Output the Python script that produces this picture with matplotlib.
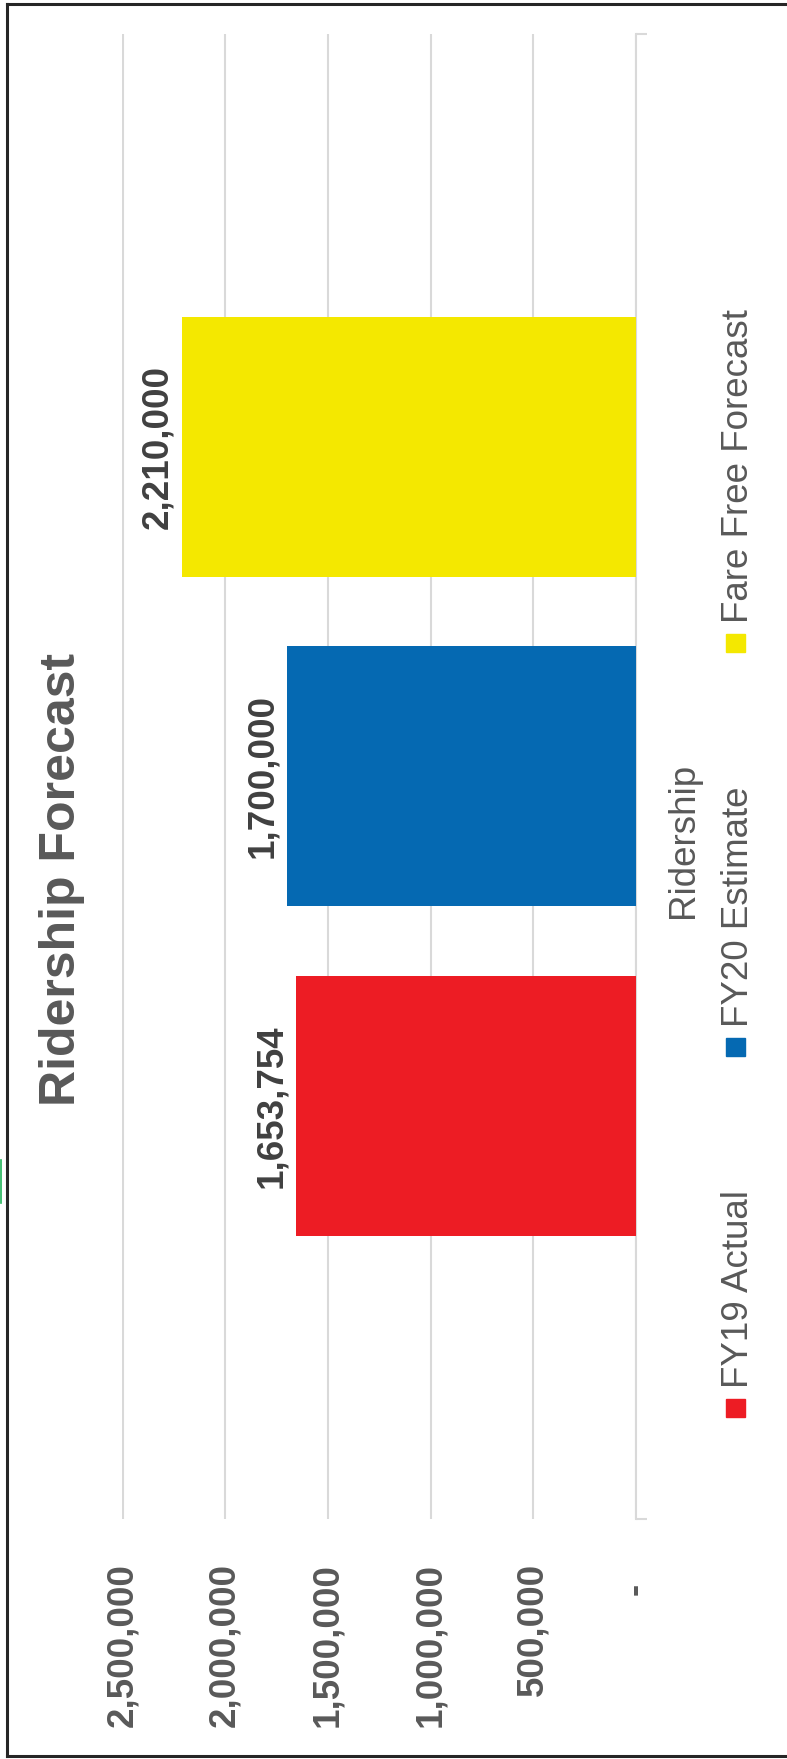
import numpy as np
import matplotlib
matplotlib.use('Agg')
import matplotlib.pyplot as plt
from matplotlib.patches import Rectangle
from matplotlib.lines import Line2D
from matplotlib.ticker import FuncFormatter

# data
series = ['FY19 Actual', 'FY20 Estimate', 'Fare Free Forecast']
values = [1653754, 1700000, 2210000]
colors = ['#ED1C24', '#0569B2', '#F4E800']
category = 'Ridership'
value_ticks = [0, 500000, 1000000, 1500000, 2000000, 2500000]

W, H = 787, 1759
plt.rcParams['font.family'] = ['Liberation Sans', 'DejaVu Sans']
GREY = '#595959'
GRID = '#D9D9D9'
FS = 26.5


def fx(x):
    return x / W


def fy(y):
    return 1 - y / H


fig = plt.figure(figsize=(W / 100, H / 100), dpi=100)
# the chart is drawn turned a quarter turn: values run right-to-left
ax = fig.add_axes([fx(122.5), fy(1519), (636 - 122.5) / W, (1519 - 33.6) / H])

spacing = 0.222
pos = (np.arange(len(values)) - 1) * spacing
bars = ax.barh(pos, values, height=0.175, color=colors, zorder=3)
ax.set_xlim(value_ticks[-1], value_ticks[0])
ax.set_ylim(-0.5, 0.5)

ax.bar_label(bars, labels=[f'{v:,.0f}' for v in values], padding=5, rotation=90,
             fontsize=FS, fontweight='bold', color='#404040')

# value axis
ax.set_xticks(value_ticks)
ax.xaxis.set_major_formatter(FuncFormatter(lambda v, p: f'{v:,.0f}' if v else '-  '))
ax.tick_params(axis='x', length=0, pad=31.7, labelsize=FS, labelcolor=GREY,
               labelrotation=90)
for t in ax.get_xticklabels():
    t.set_fontweight('bold')
ax.grid(axis='x', color=GRID, linewidth=1.5, zorder=0)

# category axis
ax.yaxis.tick_right()
ax.set_yticks([-0.5, 0.5], labels=['', ''])
ax.set_yticks([0], labels=[category], minor=True)
ax.tick_params(axis='y', which='major', length=8, width=1.5, color=GRID)
ax.tick_params(axis='y', which='minor', length=0, pad=21.6, labelsize=FS,
               labelcolor=GREY, labelrotation=90)
for s in ['left', 'top', 'bottom']:
    ax.spines[s].set_visible(False)
ax.spines['right'].set_color(GRID)
ax.spines['right'].set_linewidth(1.5)

# title
fig.text(fx(39), fy(879), 'Ridership Forecast', rotation=90, ha='left', va='center',
         fontsize=36, fontweight='bold', color=GREY)

# legend (turned with the chart)
leg_y = [1408, 1047, 643]
for name, c, y in zip(series, colors, leg_y):
    fig.add_artist(Rectangle((fx(726), fy(y + 9)), 19 / W, 18 / H, color=c,
                             transform=fig.transFigure))
    fig.text(fx(721), fy(y - 20), name, rotation=90, ha='left', va='bottom',
             fontsize=FS, color=GREY)

# chart frame
frame = dict(color='#262626', linewidth=2.2, transform=fig.transFigure)
fig.add_artist(Line2D([fx(6.5), fx(6.5)], [fy(3.5), fy(1755.5)], **frame))
fig.add_artist(Line2D([fx(6.5), 1], [fy(3.5), fy(3.5)], **frame))
fig.add_artist(Line2D([fx(6.5), 1], [fy(1755.5), fy(1755.5)], **frame))
fig.add_artist(Line2D([fx(0.7), fx(0.7)], [fy(1160), fy(1203)], color='#22B35A',
                      linewidth=1.2, transform=fig.transFigure))

fig.savefig('out.png', dpi=100)
